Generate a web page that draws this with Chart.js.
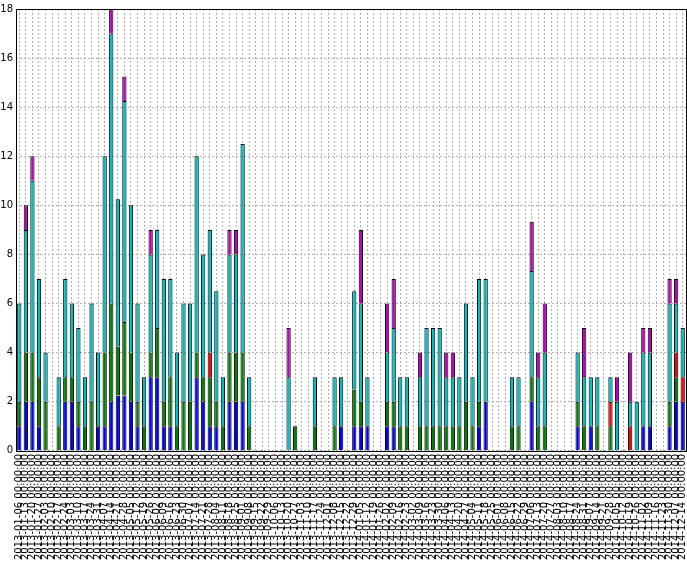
<!DOCTYPE html>
<html><head><meta charset="utf-8">
<script src="https://cdn.jsdelivr.net/npm/chart.js@4"></script>
<style>body{margin:0;background:#fff}</style></head>
<body><canvas id="c" width="687" height="563"></canvas>
<script>
const startDate = "2013-01-06";
const weekCount = 102;
const categories = [];
{ const d0 = new Date(startDate + "T00:00:00Z");
  for (let i = 0; i < weekCount; i++) { const d = new Date(d0.getTime() + i*7*86400000);
    categories.push(d.toISOString().slice(0,10) + " 00:00:00"); } }
const yTicks = [0,2,4,6,8,10,12,14,16,18];
const blue = [1,2,2,1,0,0,0,2,2,1,0,0,1,1,2,2.25,2.25,2,1,0,3,3,1,1,0,0,0,3,2,1,1,0,2,2,2,0,
 0,0,0,0,0,0,0,0,0,0,0,0,0,1,0,1,1,1,0,0,1,1,0,0,0,0,0,0,0,0,0,0,0,0,1,2,
 0,0,0,0,0,0,2,0,0,0,0,0,0,1,0,1,0,0,0,0,0,0,0,1,1,0,0,1,2,2];
const green = [1,2,2,2,2,0,1,1,1,1,1,2,0,3,4,2,3,2,1,1,1,2,1,2,1,2,2,1,1,2,1,1,2,2,2,1,
 0,0,0,0,0,0,1,0,0,1,0,0,1,0,0,1.5,1,0,0,0,1,1,1,1,0,1,1,1,1,1,1,1,2,1,1,0,
 0,0,0,1,1,0,1,1,1,0,0,0,0,1,1,0,1,0,1,0,0,0,0,0,0,0,0,1,1,0];
const red = [0,0,0,0,0,0,0,0,0,0,0,0,0,0,0,0,0,0,0,0,0,0,0,0,0,0,0,0,0,1,0,0,0,0,0,0,
 0,0,0,0,0,0,0,0,0,0,0,0,0,0,0,0,0,0,0,0,0,0,0,0,0,0,0,0,0,0,0,0,0,0,0,0,
 0,0,0,0,0,0,0,0,0,0,0,0,0,0,0,0,0,0,1,0,0,1,0,0,0,0,0,0,1,1];
const cyan = [4,5,7,4,2,0,2,4,3,3,2,4,3,8,11,6,9,6,4,2,4,4,5,4,3,4,4,8,5,5,4.5,2,4,4,8.5,2,
 0,0,0,0,0,3,0,0,0,2,0,0,2,2,0,4,4,2,0,0,2,3,2,2,0,2,4,4,4,2,2,2,4,2,5,5,
 0,0,0,2,2,0,4.33,2,3,0,0,0,0,2,2,2,2,0,1,2,0,1,2,3,3,0,0,4,2,2];
const magenta = [0,1,1,0,0,0,0,0,0,0,0,0,0,0,1,0,1,0,0,0,1,0,0,0,0,0,0,0,0,0,0,0,1,1,0,0,
 0,0,0,0,0,2,0,0,0,0,0,0,0,0,0,0,3,0,0,0,2,2,0,0,0,1,0,0,0,1,1,0,0,0,0,0,
 0,0,0,0,0,0,2,1,2,0,0,0,0,0,2,0,0,0,0,1,0,2,0,1,1,0,0,1,1,0];
const series = [["blue",blue,"#0000ff"],["green",green,"#008000"],["red",red,"#ff0000"],
 ["cyan",cyan,"#00bfbf"],["magenta",magenta,"#bf00bf"]];
const frame = {id:"frame", afterDraw(ch){const a=ch.chartArea,c=ch.ctx;c.save();c.strokeStyle="#000";c.lineWidth=1;
 c.strokeRect(Math.round(a.left)+0.5,Math.round(a.top)+0.5,Math.round(a.right-a.left),Math.round(a.bottom-a.top));c.restore();}};
const font = {family:"DejaVu Sans", size:10};
new Chart(document.getElementById("c"), {
 type:"bar",
 data:{labels:categories, datasets:series.map(([n,d,col])=>({label:n,data:d.map(v=>v===0?null:v),backgroundColor:col,borderColor:"#000",borderWidth:1,barPercentage:0.65,categoryPercentage:1}))},
 options:{responsive:false,animation:false,
  layout:{padding:{top:6,right:1,left:0,bottom:0}},
  plugins:{legend:{display:false},tooltip:{enabled:false}},
  scales:{
   x:{stacked:true,afterFit(s){s.paddingRight=0;s.paddingLeft=0;},
      grid:{offset:false,color:"#b0b0b0",lineWidth:1,drawTicks:false},border:{display:false,dash:[2,2]},
      ticks:{autoSkip:false,maxRotation:90,minRotation:90,font,color:"#000",padding:3}},
   y:{stacked:true,min:0,max:18,afterBuildTicks(s){s.ticks=yTicks.map(v=>({value:v}));},
      afterFit(s){s.width=16;},
      grid:{color:"#b0b0b0",drawTicks:false},border:{display:false,dash:[2,2]},
      ticks:{font,color:"#000",padding:3}}
  }},
 plugins:[frame]
});
</script></body></html>
